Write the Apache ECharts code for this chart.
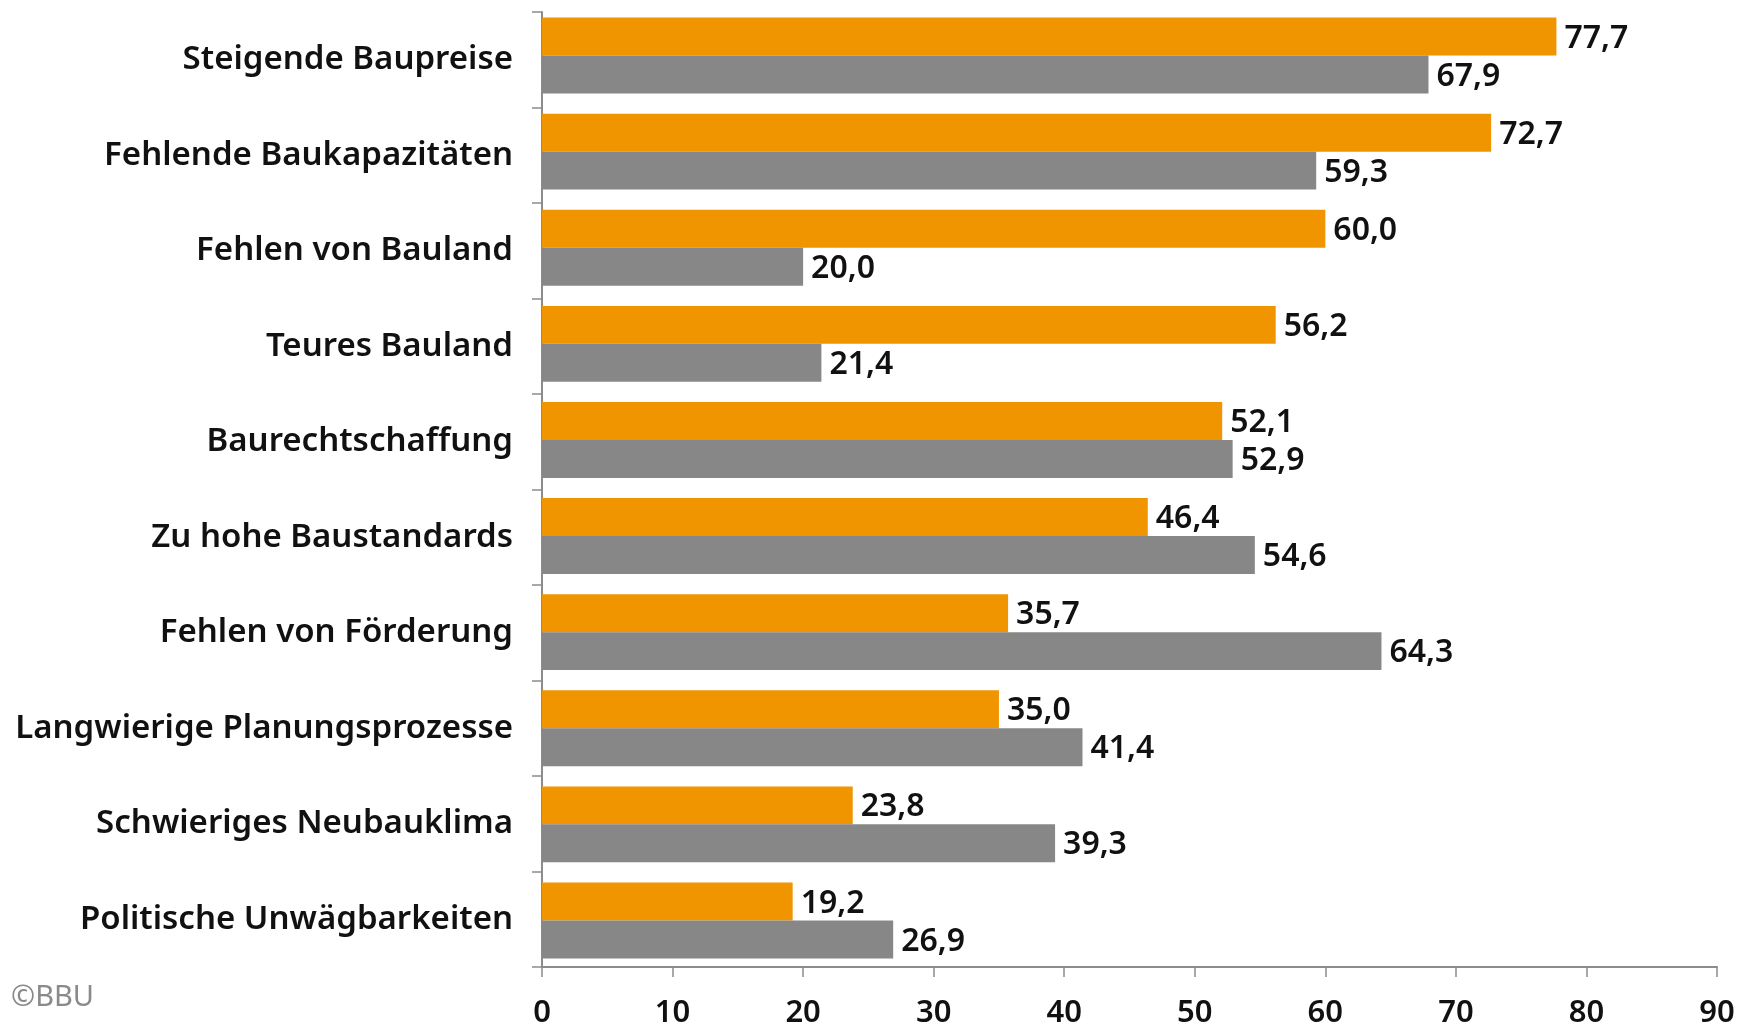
<!DOCTYPE html>
<html><head><meta charset="utf-8">
<script src="https://cdn.jsdelivr.net/npm/echarts@6/dist/echarts.min.js"></script>
<style>html,body{margin:0;padding:0;background:#fff}#c{width:1751px;height:1029px}</style>
</head><body><div id="c"></div>
<script>
const categories = ["Steigende Baupreise","Fehlende Baukapazitäten","Fehlen von Bauland","Teures Bauland","Baurechtschaffung","Zu hohe Baustandards","Fehlen von Förderung","Langwierige Planungsprozesse","Schwieriges Neubauklima","Politische Unwägbarkeiten"];
const seriesOrange = [77.7,72.7,60.0,56.2,52.1,46.4,35.7,35.0,23.8,19.2];
const seriesGray = [67.9,59.3,20.0,21.4,52.9,54.6,64.3,41.4,39.3,26.9];
const xTicks = {min:0,max:90,interval:10};

const FONT = '"Noto Sans", sans-serif';
const fmt = p => p.value.toFixed(1).replace('.', ',');
const lbl = {show:true,position:'right',distance:8,offset:[0,2],formatter:fmt,fontFamily:FONT,fontSize:32,fontWeight:600,color:'#111'};
const AX = '#8c8c8c';
const chart = echarts.init(document.getElementById('c'));
chart.setOption({
  animation:false,
  grid:[{left:542,right:34,top:12,bottom:56},{left:542,right:34,top:7.5,bottom:60.5}],
  graphic:[{type:'text',left:11,top:983,style:{text:'©BBU',font:'29px '+FONT,fill:'#8a8a8a'}}],
  xAxis:[
    {type:'value',gridIndex:0,min:xTicks.min,max:xTicks.max,interval:xTicks.interval,
      splitLine:{show:false},
      axisLine:{show:true,lineStyle:{color:AX,width:2}},
      axisTick:{show:true,length:10,lineStyle:{color:AX,width:1.5}},
      axisLabel:{fontFamily:FONT,fontSize:31,fontWeight:600,color:'#111',margin:31}},
    {type:'value',gridIndex:1,min:xTicks.min,max:xTicks.max,interval:xTicks.interval,show:false,splitLine:{show:false}}
  ],
  yAxis:[
    {type:'category',gridIndex:0,data:categories,inverse:true,
      axisLine:{show:true,lineStyle:{color:AX,width:2}},
      axisTick:{show:true,length:10,lineStyle:{color:AX,width:1.5}},
      axisLabel:{fontFamily:FONT,fontSize:33,fontWeight:600,color:'#111',margin:29}},
    {type:'category',gridIndex:1,data:categories,inverse:true,show:false}
  ],
  series:[
    {type:'bar',xAxisIndex:1,yAxisIndex:1,data:seriesOrange,barGap:'0%',barCategoryGap:'21%',itemStyle:{color:'#F09400'},label:lbl},
    {type:'bar',xAxisIndex:1,yAxisIndex:1,data:seriesGray,itemStyle:{color:'#878787'},label:lbl}
  ]
});
</script></body></html>
